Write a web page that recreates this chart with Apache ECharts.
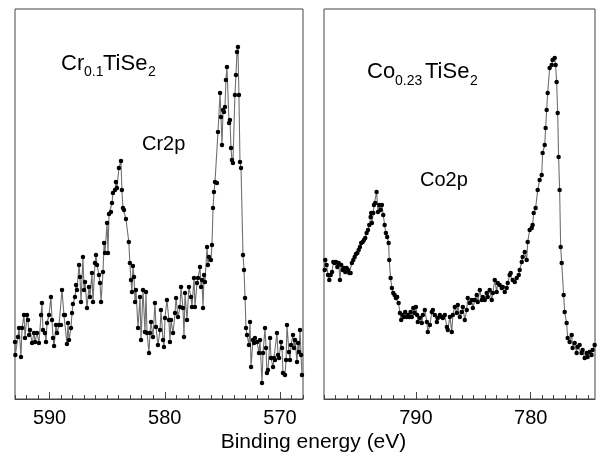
<!DOCTYPE html>
<html>
<head>
<meta charset="utf-8">
<script src="https://cdn.jsdelivr.net/npm/echarts@6/dist/echarts.min.js"></script>
<style>
html,body{margin:0;padding:0;background:#fff;}
#c{width:603px;height:457px;}
</style>
</head>
<body>
<div id="c"></div>
<script>
// ---- Cr 2p spectrum (Cr0.1TiSe2) ----
const crEnergy = [593.00,592.97,592.74,592.65,592.48,592.39,592.22,592.13,591.96,591.87,
591.78,591.70,591.52,591.35,591.26,591.09,590.92,590.74,590.66,590.57,
590.40,590.31,590.22,590.05,589.88,589.79,589.70,589.61,589.44,589.35,
589.18,589.01,588.92,588.75,588.66,588.49,588.40,588.31,588.14,588.05,
587.97,587.79,587.70,587.62,587.44,587.36,587.27,587.10,587.01,586.92,
586.75,586.58,586.49,586.32,586.23,586.06,585.97,585.88,585.71,585.62,
585.53,585.36,585.27,585.19,585.01,584.93,584.84,584.67,584.58,584.50,
584.32,584.24,584.15,583.98,583.80,583.72,583.63,583.54,583.37,583.12,
583.03,582.93,582.85,582.76,582.67,582.58,582.50,582.32,582.15,582.06,
581.89,581.72,581.63,581.54,581.37,581.28,581.19,581.02,580.85,580.76,
580.59,580.41,580.33,580.15,580.07,579.98,579.81,579.64,579.55,579.46,
579.28,579.11,579.02,578.85,578.68,578.59,578.42,578.33,578.24,578.07,
577.90,577.72,577.64,577.46,577.38,577.20,577.11,576.94,576.85,576.77,
576.68,576.59,576.51,576.33,576.25,576.16,575.99,575.90,575.81,575.73,
575.64,575.47,575.38,575.20,575.12,575.03,574.94,574.86,574.77,574.69,
574.60,574.42,574.34,574.25,574.17,574.08,573.91,573.82,573.73,573.65,
573.56,573.47,573.38,573.21,573.12,573.03,572.95,572.86,572.69,572.60,
572.51,572.34,572.25,572.17,571.99,571.82,571.73,571.56,571.47,571.30,
571.21,571.13,571.04,570.86,570.78,570.60,570.52,570.43,570.26,570.17,
570.08,569.91,569.82,569.74,569.56,569.47,569.39,569.22,569.13,569.04,
568.87,568.78,568.69,568.52,568.43,568.35,568.26,568.17,568.09];
const crCounts = [57,44,62,71,42,71,84,61,84,79,
64,69,56,66,57,66,56,84,96,69,
66,57,76,84,102,79,61,53,74,66,
74,74,109,84,84,55,76,59,71,86,
95,102,114,109,134,122,97,142,109,117,
91,112,102,126,97,136,144,134,124,116,
97,127,156,146,176,146,185,187,196,206,
209,217,211,231,238,209,191,189,180,157,
136,119,107,133,122,97,109,71,102,59,
109,67,107,66,46,66,77,62,96,72,
54,69,89,59,52,81,99,79,57,79,
66,86,101,82,92,112,91,62,106,79,
112,102,92,121,92,116,121,132,112,119,
91,124,117,152,134,142,139,154,191,207,
217,216,267,306,282,254,289,287,292,319,
332,276,279,251,239,236,304,324,347,352,
304,237,231,144,129,101,71,64,54,77,
32,59,56,61,57,46,59,16,46,71,
51,26,29,61,41,32,41,39,66,44,
41,57,51,26,24,39,74,47,39,54,
64,51,59,37,56,47,69,44,24];

// ---- Co 2p spectrum (Co0.23TiSe2) ----
const coEnergy = [797.94,797.89,797.77,797.65,797.54,797.42,797.30,797.19,797.07,796.96,
796.84,796.72,796.61,796.50,796.37,796.26,796.15,796.03,795.91,795.80,
795.68,795.57,795.45,795.33,795.22,795.10,794.98,794.87,794.76,794.63,
794.52,794.41,794.29,794.17,794.06,793.94,793.89,793.83,793.71,793.65,
793.54,793.42,793.30,793.19,793.07,792.96,792.84,792.72,792.61,792.50,
792.37,792.32,792.20,792.09,791.97,791.85,791.74,791.63,791.50,791.39,
791.28,791.16,791.04,790.93,790.81,790.70,790.58,790.46,790.35,790.23,
790.11,790.00,789.89,789.83,789.65,789.48,789.39,789.22,789.04,788.96,
788.78,788.61,788.52,788.35,788.17,788.09,787.91,787.74,787.65,787.48,
787.30,787.22,787.04,786.87,786.78,786.61,786.43,786.35,786.17,786.00,
785.91,785.74,785.57,785.48,785.30,785.13,785.04,784.87,784.70,784.61,
784.43,784.26,784.17,784.00,783.83,783.74,783.57,783.39,783.30,783.13,
782.96,782.87,782.70,782.52,782.43,782.26,782.09,782.00,781.83,781.74,
781.57,781.39,781.22,781.04,780.96,780.78,780.70,780.52,780.35,780.26,
780.09,779.91,779.83,779.74,779.57,779.39,779.22,779.04,778.96,778.78,
778.70,778.61,778.52,778.35,778.17,778.09,777.91,777.83,777.74,777.65,
777.57,777.48,777.39,777.30,777.13,777.04,776.87,776.78,776.61,776.43,
776.35,776.17,776.00,775.91,775.74,775.57,775.48,775.30,775.13,775.04,
774.87,774.70,774.61,774.43];
const coCounts = [129,139,134,124,119,124,127,137,136,137,
132,136,119,134,129,131,127,131,129,126,
126,136,139,142,145,146,149,152,156,157,
159,161,166,169,174,182,186,176,186,194,
196,207,187,194,189,194,184,174,166,162,
156,139,121,111,106,104,101,102,96,86,
79,84,82,87,82,84,82,87,82,91,
86,92,84,77,81,76,84,89,77,67,
74,87,89,84,77,81,84,82,81,84,
72,69,82,67,84,92,86,94,82,87,
92,79,89,101,96,99,91,99,104,97,
109,99,102,99,106,102,109,99,106,119,
107,116,114,111,112,107,111,116,124,126,
119,117,121,124,129,137,142,147,139,157,
169,171,174,186,191,209,219,224,246,254,
271,289,306,331,334,339,341,334,317,286,
242,209,152,136,104,87,76,61,57,64,
51,56,46,52,54,46,49,41,46,42,
47,44,49,54];

// ---- axis ticks ----
const crMajorTicks = [570, 580, 590];
const crMinorTicks = [568,569,570,571,572,573,574,575,576,577,578,579,580,581,582,583,584,585,586,587,588,589,590,591,592,593];
const coMajorTicks = [780, 790];
const coMinorTicks = [775,776,777,778,779,780,781,782,783,784,785,786,787,788,789,790,791,792,793,794,795,796,797,798];

const FONT = "'Liberation Sans', Arial, Helvetica, sans-serif";
const FRAME = '#444';

function pairs(xs, ys) { return xs.map((x, i) => [x, ys[i]]); }

function majorAxis(grid, min, max, ticks) {
  return {
    gridIndex: grid, type: 'value', min: min, max: max, inverse: true, position: 'bottom',
    axisLine: { show: true, onZero: false, lineStyle: { color: FRAME, width: 1 } },
    axisTick: { show: true, inside: true, length: 7, customValues: ticks, lineStyle: { color: FRAME, width: 1 } },
    axisLabel: { show: true, customValues: ticks, fontSize: 20, color: '#000', fontFamily: FONT, margin: 9 },
    splitLine: { show: false }
  };
}
function minorAxis(grid, min, max, ticks) {
  return {
    gridIndex: grid, type: 'value', min: min, max: max, inverse: true, position: 'bottom', offset: 0,
    axisLine: { show: false, onZero: false },
    axisTick: { show: true, inside: true, length: 4, customValues: ticks, lineStyle: { color: FRAME, width: 1 } },
    axisLabel: { show: false },
    splitLine: { show: false }
  };
}
function spectrum(xi, yi, data) {
  return {
    type: 'line', xAxisIndex: xi, yAxisIndex: yi, data: data,
    showSymbol: true, showAllSymbol: true, symbol: 'circle', symbolSize: 4.5,
    lineStyle: { color: '#707070', width: 1.1 },
    itemStyle: { color: '#000' },
    emphasis: { disabled: true }, clip: true, animation: false
  };
}
function txt(x, y, s, size, align) {
  return { type: 'text', x: x, y: y, silent: true,
    style: { text: s, fontSize: size, fontFamily: FONT, fill: '#000', align: align || 'left', verticalAlign: 'middle' } };
}

const chart = echarts.init(document.getElementById('c'), null, { renderer: 'canvas' });
chart.setOption({
  animation: false,
  backgroundColor: '#fff',
  grid: [
    { left: 15, top: 9, width: 288, height: 390, show: true, borderColor: FRAME, borderWidth: 1, backgroundColor: 'transparent' },
    { left: 324, top: 9, width: 271, height: 390, show: true, borderColor: FRAME, borderWidth: 1, backgroundColor: 'transparent' }
  ],
  xAxis: [
    majorAxis(0, 568, 593, crMajorTicks),
    minorAxis(0, 568, 593, crMinorTicks),
    majorAxis(1, 774.4, 798, coMajorTicks),
    minorAxis(1, 774.4, 798, coMinorTicks)
  ],
  yAxis: [
    { gridIndex: 0, type: 'value', min: 0, max: 390, show: false },
    { gridIndex: 1, type: 'value', min: 0, max: 390, show: false }
  ],
  series: [
    spectrum(0, 0, pairs(crEnergy, crCounts)),
    spectrum(2, 1, pairs(coEnergy, coCounts))
  ],
  graphic: [
    txt(61, 64, 'Cr', 22), txt(84, 72, '0.1', 14), txt(103, 64, 'TiSe', 22), txt(148, 72, '2', 14),
    txt(142, 144, 'Cr2p', 20),
    txt(367, 72, 'Co', 22), txt(395, 81, '0.23', 14), txt(425, 72, 'TiSe', 22), txt(470, 81, '2', 14),
    txt(420, 180, 'Co2p', 20),
    txt(313.5, 442.5, 'Binding energy (eV)', 21, 'center')
  ]
});
</script>
</body>
</html>
